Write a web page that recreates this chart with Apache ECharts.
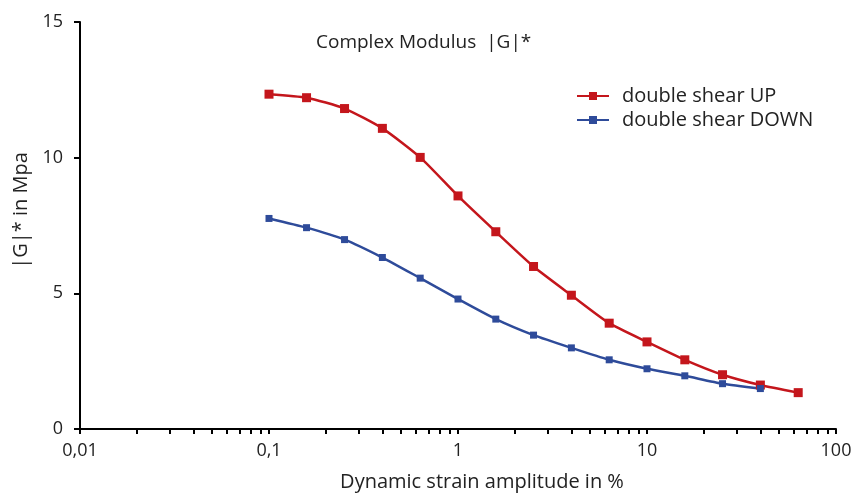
<!DOCTYPE html>
<html>
<head>
<meta charset="utf-8">
<script src="https://cdn.jsdelivr.net/npm/echarts@6/dist/echarts.min.js"></script>
<style>html,body{margin:0;padding:0;background:#fff}#c{width:862px;height:497px}</style>
</head>
<body>
<div id="c"></div>
<script>
const strain = [0.1, 0.158, 0.251, 0.398, 0.631, 1, 1.585, 2.51, 3.98, 6.31, 10, 15.85, 25.1, 39.8, 63.1];
const upValues = [12.34, 12.21, 11.81, 11.08, 10.01, 8.59, 7.27, 5.99, 4.93, 3.90, 3.21, 2.55, 2.00, 1.62, 1.34];
const downValues = [7.76, 7.42, 6.98, 6.32, 5.56, 4.79, 4.05, 3.46, 2.99, 2.55, 2.22, 1.96, 1.67, 1.49];
const xMajorTicks = [0.01, 0.1, 1, 10, 100];
const yTicks = [0, 5, 10, 15];
const seriesNames = ['double shear UP', 'double shear DOWN'];
const titleText = 'Complex Modulus  |G|*';
const xName = 'Dynamic strain amplitude in %';
const yName = '|G|* in Mpa';

const minorTicks = [];
for (let d = 0; d < xMajorTicks.length; d++) {
  const base = xMajorTicks[d];
  minorTicks.push(base);
  if (d < xMajorTicks.length - 1) {
    for (let k = 2; k <= 9; k++) minorTicks.push(+(base * k).toPrecision(6));
  }
}
const pairs = (xs, ys) => ys.map((v, i) => [xs[i], v]);
const font = '"Open Sans", "Noto Sans", sans-serif';

const chart = echarts.init(document.getElementById('c'), null, {renderer: 'canvas'});
chart.setOption({
  animation: false,
  backgroundColor: '#fff',
  textStyle: {fontFamily: font},
  title: {
    text: titleText, left: 311, top: 28,
    textStyle: {fontSize: 19, fontWeight: 'normal', color: '#222', fontFamily: font}
  },
  legend: {
    left: 571, top: 81, orient: 'vertical', itemGap: 4,
    itemWidth: 32, itemHeight: 10,
    textStyle: {fontSize: 20, color: '#222', fontFamily: font, padding: [0, 0, 0, 8]},
    data: seriesNames
  },
  grid: {left: 80, right: 26, top: 22, bottom: 66},
  xAxis: {
    type: 'log', logBase: 10, min: 0.01, max: 100,
    name: xName, nameLocation: 'middle', nameGap: 43,
    nameTextStyle: {fontSize: 20, color: '#222', fontFamily: font, padding: [0, 0, 0, 48]},
    axisLine: {lineStyle: {color: '#000', width: 2}},
    axisTick: {show: true, inside: false, length: 5, lineStyle: {color: '#000', width: 2}, customValues: minorTicks},
    axisLabel: {fontSize: 18, color: '#222', margin: 13, fontFamily: font, customValues: xMajorTicks,
      formatter: v => String(+v.toPrecision(6)).replace('.', ',')},
    splitLine: {show: false},
    minorTick: {show: false}
  },
  yAxis: {
    type: 'value', min: 0, max: 15, interval: 5,
    name: yName, nameLocation: 'middle', nameGap: 42, nameRotate: 90,
    nameTextStyle: {fontSize: 20, color: '#222', fontFamily: font, padding: [0, 0, 0, 30]},
    axisLine: {show: true, lineStyle: {color: '#000', width: 2}},
    axisTick: {show: true, inside: false, length: 6, lineStyle: {color: '#000', width: 2}},
    axisLabel: {fontSize: 18, color: '#222', margin: 17, fontFamily: font},
    splitLine: {show: false}
  },
  series: [
    {
      name: seriesNames[0], type: 'line', data: pairs(strain, upValues),
      smooth: 0.2, symbol: 'rect', symbolSize: 9,
      lineStyle: {color: '#C4161C', width: 2.5},
      itemStyle: {color: '#C4161C'}
    },
    {
      name: seriesNames[1], type: 'line', data: pairs(strain, downValues),
      smooth: 0.2, symbol: 'rect', symbolSize: 7,
      lineStyle: {color: '#2E4B9A', width: 2.5},
      itemStyle: {color: '#2E4B9A'}
    }
  ]
});
</script>
</body>
</html>
